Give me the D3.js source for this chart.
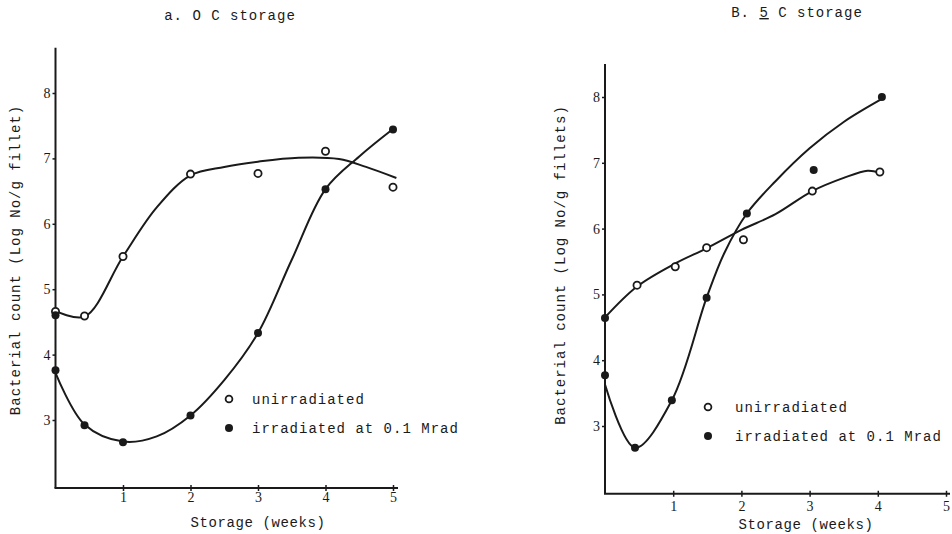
<!DOCTYPE html>
<html>
<head>
<meta charset="utf-8">
<script src="https://cdn.jsdelivr.net/npm/d3@7"></script>
<style>
  html, body { margin: 0; padding: 0; background: #fff; }
  svg { display: block; }
  text { font-family: "Liberation Mono", "DejaVu Sans Mono", monospace; fill: #1a1a1a; }
</style>
</head>
<body>
<svg id="chart" width="952" height="534"></svg>
<script>
// ---- Panel a: 0 C storage ----
const unirrAWeeks = [0, 0.43, 1, 2, 3, 4, 5];
const unirrAValues = [4.66, 4.59, 5.5, 6.76, 6.77, 7.11, 6.56];
const irrAWeeks = [0, 0.43, 1, 2, 3, 4, 5];
const irrAValues = [3.76, 2.92, 2.66, 3.07, 4.33, 6.53, 7.44];
const initAWeeks = [0];
const initAValues = [4.6];
// fitted trend lines (hand drawn through the counts)
const unirrAFitWeeks = [0, 0.43, 1, 1.5, 2, 2.5, 3, 3.6, 4.2, 4.6, 5.05];
const unirrAFitValues = [4.67, 4.58, 5.5, 6.25, 6.74, 6.87, 6.95, 7.01, 6.99, 6.87, 6.7];
const irrAFitWeeks = [0, 0.43, 1, 1.5, 2, 2.5, 3, 3.5, 4, 4.5, 5];
const irrAFitValues = [3.72, 2.93, 2.67, 2.75, 3.07, 3.61, 4.33, 5.45, 6.53, 7.03, 7.45];

// ---- Panel B: 5 C storage ----
const unirrBWeeks = [0.47, 1.03, 1.49, 2.03, 3.04, 4.03];
const unirrBValues = [5.14, 5.42, 5.71, 5.83, 6.57, 6.86];
const irrBWeeks = [0, 0.44, 0.98, 1.49, 2.08, 3.06, 4.06];
const irrBValues = [3.77, 2.67, 3.39, 4.95, 6.23, 6.89, 8.0];
const initBWeeks = [0];
const initBValues = [4.64];
const unirrBFitWeeks = [0, 0.47, 1.03, 1.49, 2, 2.5, 3.04, 3.5, 3.85, 4.03];
const unirrBFitValues = [4.65, 5.12, 5.47, 5.7, 5.98, 6.22, 6.57, 6.77, 6.88, 6.85];
const irrBFitWeeks = [0, 0.44, 0.98, 1.49, 1.75, 2.08, 2.5, 3.0, 3.5, 4.06];
const irrBFitValues = [3.63, 2.67, 3.39, 4.95, 5.63, 6.23, 6.72, 7.22, 7.62, 7.97];

// axis ticks
const yTicks = [3, 4, 5, 6, 7, 8];
const xTicks = [1, 2, 3, 4, 5];

const titleA = "a. O C storage";
const titleB = ["B. ", "5", " C storage"];
const xLabel = "Storage (weeks)";
const yLabelA = "Bacterial count (Log No/g fillet)";
const yLabelB = "Bacterial count (Log No/g fillets)";
const legendLabels = ["unirradiated", "irradiated at 0.1 Mrad"];

const svg = d3.select("#chart");
const ink = "#1a1a1a";

function zip(ws, vs) { return ws.map((w, i) => ({ w, v: vs[i] })); }

function drawPanel(cfg) {
  const x = d3.scaleLinear().domain([0, 5]).range(cfg.xRange);
  const y = d3.scaleLinear().domain([3, 8]).range(cfg.yRange);
  const g = svg.append("g");

  // axes
  const x0 = x(0), yBase = y(cfg.yMin);
  g.append("line").attr("x1", x0).attr("x2", x0)
    .attr("y1", y(cfg.yMax)).attr("y2", yBase)
    .attr("stroke", ink).attr("stroke-width", 2);
  g.append("line").attr("x1", x0 - 1).attr("x2", cfg.xEnd)
    .attr("y1", yBase).attr("y2", yBase)
    .attr("stroke", ink).attr("stroke-width", 2);

  const yAxis = d3.axisLeft(y).tickValues(yTicks).tickSize(3).tickPadding(2).tickFormat(d3.format("d"));
  const ya = g.append("g").attr("transform", `translate(${x0},0)`).call(yAxis);
  ya.select(".domain").remove();
  ya.selectAll("line").attr("stroke", ink).attr("stroke-width", 1.5);
  ya.selectAll("text").style("font-size", "14px").style("font-family", "Liberation Serif, serif").attr("fill", ink);

  const xAxis = d3.axisBottom(x).tickValues(xTicks).tickSize(3).tickPadding(cfg.xPad).tickFormat(d3.format("d"));
  const xa = g.append("g").attr("transform", `translate(0,${yBase})`).call(xAxis);
  xa.select(".domain").remove();
  xa.selectAll("line").attr("stroke", ink).attr("stroke-width", 1.5).attr("y1", -3).attr("y2", 3);
  xa.selectAll("text").style("font-size", "14px").style("font-family", "Liberation Serif, serif").attr("fill", ink);

  // trend lines
  const line = d3.line().x(d => x(d.w)).y(d => y(d.v)).curve(d3.curveCatmullRom.alpha(0.5));
  [cfg.unirrFit, cfg.irrFit].forEach(data => {
    g.append("path").datum(data).attr("d", line)
      .attr("fill", "none").attr("stroke", ink).attr("stroke-width", 2);
  });

  // points
  g.selectAll(".open").data(cfg.unirr).join("circle")
    .attr("cx", d => x(d.w)).attr("cy", d => y(d.v)).attr("r", 3.6)
    .attr("fill", "#fff").attr("stroke", ink).attr("stroke-width", 1.8);
  g.selectAll(".filled").data(cfg.irr.concat(cfg.init)).join("circle")
    .attr("cx", d => x(d.w)).attr("cy", d => y(d.v)).attr("r", 4)
    .attr("fill", ink);

  // legend
  const lg = g.append("g").attr("transform", `translate(${cfg.legend[0]},${cfg.legend[1]})`);
  lg.append("circle").attr("cx", 0).attr("cy", 0).attr("r", 3.4)
    .attr("fill", "#fff").attr("stroke", ink).attr("stroke-width", 1.8);
  lg.append("circle").attr("cx", 0).attr("cy", 29).attr("r", 4).attr("fill", ink);
  legendLabels.forEach((t, i) => {
    lg.append("text").attr("x", cfg.legendText).attr("y", i * 29 + 5)
      .style("font-size", "14px").style("letter-spacing", "1px").text(t);
  });

  // axis titles
  g.append("text").attr("x", cfg.xLabelX).attr("y", cfg.xLabelY)
    .attr("text-anchor", "middle").style("font-size", "14px").style("letter-spacing", "0.6px").text(xLabel);
  g.append("text").attr("transform", `translate(${cfg.yLabelX},${cfg.yLabelY}) rotate(-90)`)
    .attr("text-anchor", "middle").style("font-size", "14px").style("letter-spacing", "1px").text(cfg.yLabel);

  return g;
}

drawPanel({
  xRange: [55.5, 393], yRange: [420, 93], yMin: 1.96, yMax: 8.69, xEnd: 398, xPad: 1,
  unirr: zip(unirrAWeeks, unirrAValues), irr: zip(irrAWeeks, irrAValues), init: zip(initAWeeks, initAValues),
  unirrFit: zip(unirrAFitWeeks, unirrAFitValues), irrFit: zip(irrAFitWeeks, irrAFitValues),
  legend: [229, 399], legendText: 23,
  xLabelX: 258, xLabelY: 527, yLabelX: 20, yLabelY: 260, yLabel: yLabelA
});

drawPanel({
  xRange: [605, 946], yRange: [426, 97], yMin: 1.97, yMax: 8.5, xEnd: 950, xPad: 4,
  unirr: zip(unirrBWeeks, unirrBValues), irr: zip(irrBWeeks, irrBValues), init: zip(initBWeeks, initBValues),
  unirrFit: zip(unirrBFitWeeks, unirrBFitValues), irrFit: zip(irrBFitWeeks, irrBFitValues),
  legend: [708, 407], legendText: 27,
  xLabelX: 806, xLabelY: 529, yLabelX: 565, yLabelY: 265, yLabel: yLabelB
});

// panel titles
svg.append("text").attr("x", 230).attr("y", 20).attr("text-anchor", "middle")
  .style("font-size", "14px").style("letter-spacing", "1px").text(titleA);
const tb = svg.append("text").attr("x", 797).attr("y", 17).attr("text-anchor", "middle")
  .style("font-size", "14px").style("letter-spacing", "1px");
titleB.forEach((s, i) => {
  const ts = tb.append("tspan").text(s);
  if (i === 1) ts.style("text-decoration", "underline");
});
</script>
</body>
</html>
